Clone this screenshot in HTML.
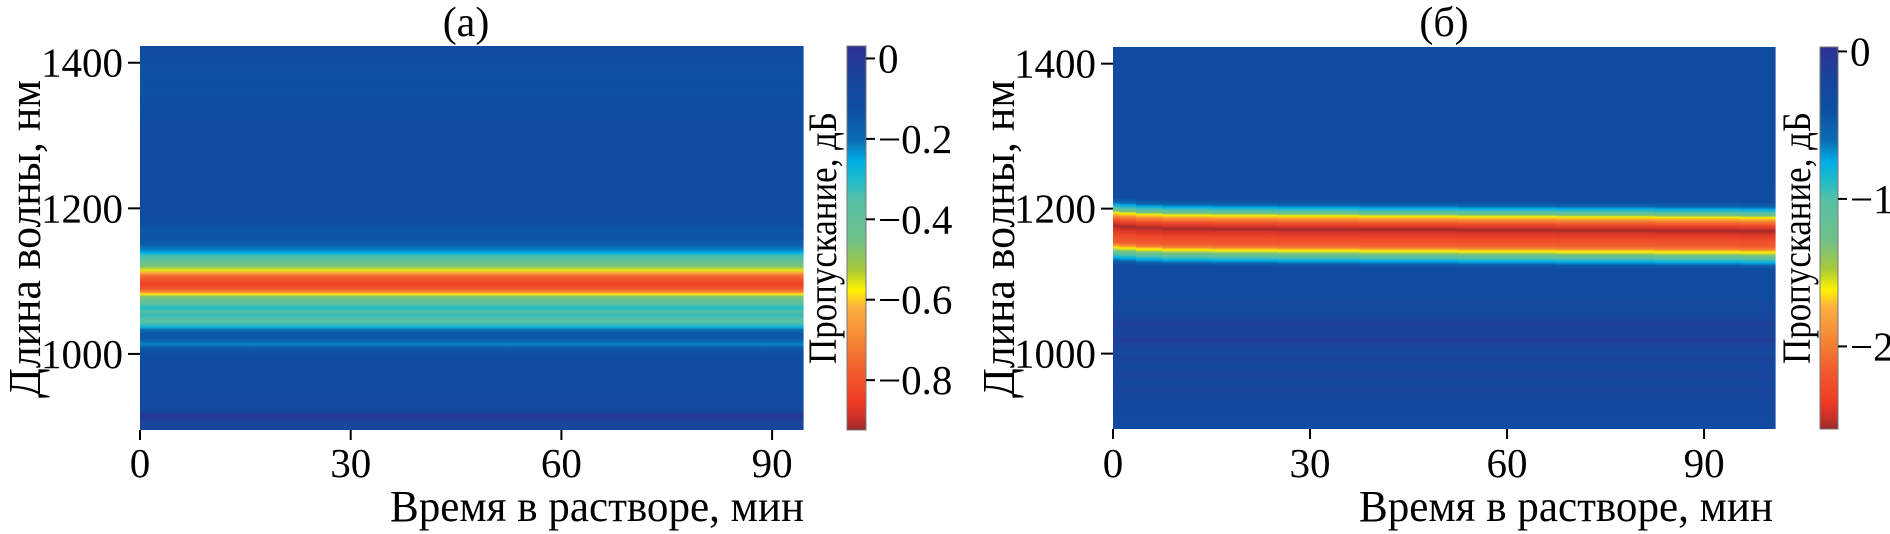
<!DOCTYPE html>
<html><head><meta charset="utf-8"><style>
html,body{margin:0;padding:0;background:#fff;}
svg{display:block;font-family:"Liberation Serif","Noto Serif CJK SC",serif;}
</style></head><body>
<svg id="fig" width="1890" height="534" viewBox="0 0 1890 534" xmlns="http://www.w3.org/2000/svg">
<defs id="defs"></defs>
<g id="panelA"></g>
<g id="panelB"></g>
<g>
<text x="466" y="36" text-anchor="middle" font-size="42">(a)</text>
<text x="1444" y="36" text-anchor="middle" font-size="42">(б)</text>
<text transform="translate(40,239) rotate(-90)" text-anchor="middle" font-size="46" textLength="318" lengthAdjust="spacingAndGlyphs">Длина волны, нм</text>
<text transform="translate(1014,239) rotate(-90)" text-anchor="middle" font-size="46" textLength="318" lengthAdjust="spacingAndGlyphs">Длина волны, нм</text>
<text x="804" y="521" text-anchor="end" font-size="44" textLength="414" lengthAdjust="spacingAndGlyphs">Время в растворе, мин</text>
<text x="1773" y="521" text-anchor="end" font-size="44" textLength="414" lengthAdjust="spacingAndGlyphs">Время в растворе, мин</text>
<text transform="translate(836,238) rotate(-90)" text-anchor="middle" font-size="40" textLength="252" lengthAdjust="spacingAndGlyphs">Пропускание, дБ</text>
<text transform="translate(1810,238) rotate(-90)" text-anchor="middle" font-size="40" textLength="252" lengthAdjust="spacingAndGlyphs">Пропускание, дБ</text>
</g>
</svg>
<script>
// ---- Panel (a) data: transmission profile vs wavelength (constant in time)
const timesA = [0, 94.4];
const wlA  = [1425,1380,1300,1200,1180,1170,1160,1150,1143,1139,1135,1128,1120,1115,1112,1107,1100,1095,1090,1085,1082,1079,1074,1068,1063,1058,1053,1048,1043,1037,1033,1028,1022,1017,1013,1009,1000,960,930,920,915,910,900,895];
const valA = [-0.11,-0.13,-0.11,-0.11,-0.12,-0.14,-0.13,-0.17,-0.22,-0.26,-0.33,-0.40,-0.47,-0.56,-0.62,-0.75,-0.82,-0.83,-0.80,-0.70,-0.58,-0.48,-0.42,-0.36,-0.30,-0.36,-0.32,-0.37,-0.35,-0.28,-0.20,-0.15,-0.15,-0.20,-0.22,-0.16,-0.12,-0.10,-0.09,-0.06,0.01,-0.03,-0.06,-0.06];
const xTicksA = [0,30,60,90];
const yTicks = [1000,1200,1400];
const cbTicksA = [0,-0.2,-0.4,-0.6,-0.8];
const cbLabelsA = ["0","\u22120.2","\u22120.4","\u22120.6","\u22120.8"];

// ---- Panel (б) data
const timesB  = [0,2,5,10,20,30,45,60,75,90,101];
const peakB   = [1176,1175,1173.5,1172.5,1172,1171.5,1171,1170.5,1170,1169.5,1169];
const bandOff = [40,33,29.5,25,21,18.5,14,8,3,0,-4,-12,-22,-26,-29.5,-34,-39,-43.5,-48,-53];
const bandVal = [-0.35,-0.55,-0.75,-1.0,-1.3,-1.6,-1.9,-2.25,-2.45,-2.55,-2.45,-2.3,-2.15,-1.95,-1.62,-1.3,-1.0,-0.75,-0.5,-0.35];
const bgWlB  = [1425,1300,1240,1110,1080,1070,1060,1045,1040,1035,1025,1019,1012,1000,992,985,970,960,950,930,900,895];
const bgValB = [-0.33,-0.33,-0.33,-0.33,-0.33,-0.28,-0.25,-0.2,-0.12,-0.2,-0.18,-0.1,-0.2,-0.25,-0.16,-0.25,-0.2,-0.25,-0.2,-0.27,-0.3,-0.3];
const xTicksB = [0,30,60,90];
const cbTicksB = [0,-1,-2];
const cbLabelsB = ["0","\u22121","\u22122"];

// ---- colormap
const cmap = [[0,"#9a2a2b"],[0.03,"#c9302a"],[0.07,"#ee3b24"],[0.15,"#f15a2e"],[0.234,"#f58634"],[0.32,"#fcb040"],[0.365,"#fff200"],[0.417,"#a9ca3a"],[0.495,"#70c088"],[0.60,"#56c0a8"],[0.65,"#20bcc8"],[0.70,"#00aee8"],[0.755,"#0b6cb3"],[0.84,"#0d4ea1"],[0.92,"#1a449c"],[1.0,"#2e3192"]];
function hex(h){return [1,3,5].map(i=>parseInt(h.substr(i,2),16));}
function colorAt(f){
  f=Math.max(0,Math.min(1,f));
  for(let i=1;i<cmap.length;i++){
    if(f<=cmap[i][0]){
      const a=cmap[i-1],b=cmap[i],t=(f-a[0])/(b[0]-a[0]);
      const ca=hex(a[1]),cb=hex(b[1]);
      return "rgb("+ca.map((c,k)=>Math.round(c+(cb[k]-c)*t)).join(",")+")";
    }
  }
  return cmap[cmap.length-1][1];
}
const NS="http://www.w3.org/2000/svg";
function mk(tag,attrs,parent){const e=document.createElementNS(NS,tag);for(const k in attrs)e.setAttribute(k,attrs[k]);parent.appendChild(e);return e;}
const defs=document.getElementById('defs');
let gid=0;
function gradient(stops){
  const id="g"+(gid++);
  const g=mk('linearGradient',{id:id,x1:0,y1:0,x2:0,y2:1},defs);
  stops.forEach(s=>mk('stop',{offset:s[0],'stop-color':s[1]},g));
  return id;
}

function drawPanel(cfg){
  const P=cfg.parent;
  const yS=w=>cfg.top+(cfg.wMax-w)/(cfg.wMax-cfg.wMin)*(cfg.bottom-cfg.top);
  const xS=t=>cfg.left+(t-cfg.tMin)/(cfg.tMax-cfg.tMin)*(cfg.right-cfg.left);
  const vf=v=>(v-cfg.vMin)/(cfg.vMax-cfg.vMin);
  const hm=mk('g',{},P);
  
  
  const n=cfg.times.length;
  for(let i=0;i<n;i++){
    const pts=cfg.profile(i).sort((a,b)=>b[0]-a[0]);
    const stops=pts.map(p=>[Math.max(0,Math.min(1,(yS(p[0])-cfg.top)/(cfg.bottom-cfg.top))),colorAt(vf(p[1]))]);
    const id=gradient(stops);
    const x0 = i===0?cfg.left:(xS(cfg.times[i-1])+xS(cfg.times[i]))/2;
    const x1 = i===n-1?cfg.right:(xS(cfg.times[i])+xS(cfg.times[i+1]))/2;
    const r=mk('rect',{x:x0,y:cfg.top,width:Math.max(x1-x0,0)+0.6,height:cfg.bottom-cfg.top,fill:'url(#'+id+')'},hm);
    
    
  }
  cfg.yTicks.forEach(w=>{
    const y=yS(w);
    const l=mk('line',{x1:cfg.left-12,x2:cfg.left,y1:y,y2:y,stroke:'#000','stroke-width':2},P);
    
    
    const t=mk('text',{x:cfg.left-17,y:y+14,'text-anchor':'end','font-size':41},P);
    t.textContent=w;
    
    
  });
  cfg.xTicks.forEach(v=>{
    const x=xS(v);
    const l=mk('line',{x1:x,x2:x,y1:cfg.bottom,y2:cfg.bottom+10,stroke:'#000','stroke-width':2},P);
    
    
    const t=mk('text',{x:x,y:477,'text-anchor':'middle','font-size':41},P);
    t.textContent=v;
    
    
  });
  const cbStops=cmap.map(s=>[1-s[0],s[1]]).reverse();
  const cid=gradient(cbStops);
  const cb=mk('rect',{x:cfg.cbX,y:cfg.top,width:cfg.cbW,height:cfg.bottom-cfg.top,fill:'url(#'+cid+')',stroke:'#777','stroke-width':1},P);
  
  
  const cy=v=>cfg.bottom-vf(v)*(cfg.bottom-cfg.top);
  cfg.cbTicks.forEach((v,i)=>{
    const y=cy(v);
    const l=mk('line',{x1:cfg.cbX+cfg.cbW,x2:cfg.cbX+cfg.cbW+9,y1:y,y2:y,stroke:'#000','stroke-width':2},P);
    
    
    const t=mk('text',{x:cfg.cbX+cfg.cbW+12,y:y+14,'font-size':41},P);
    t.textContent=cfg.cbLabels[i];
    
    
  });
}

drawPanel({parent:document.getElementById('panelA'),left:140,right:803,top:46,bottom:430,
  wMin:895.5,wMax:1423,tMin:0,tMax:94.4,vMin:-0.924,vMax:0.031,
  times:timesA,profile:i=>wlA.map((w,k)=>[w,valA[k]]),
  yTicks:yTicks,xTicks:xTicksA,cbX:847,cbW:19,cbTicks:cbTicksA,cbLabels:cbLabelsA});

drawPanel({parent:document.getElementById('panelB'),left:1113,right:1775,top:47,bottom:429,
  wMin:896,wMax:1423,tMin:0,tMax:100.8,vMin:-2.56,vMax:0.03,
  times:timesB,profile:i=>{
    const c=peakB[i];
    const pts=[];
    bgWlB.forEach((w,k)=>{ if(w>c+45||w<c-58) pts.push([w,bgValB[k]]); });
    bandOff.forEach((o,k)=>pts.push([c+o,bandVal[k]]));
    return pts;
  },
  yTicks:yTicks,xTicks:xTicksB,cbX:1820,cbW:18,cbTicks:cbTicksB,cbLabels:cbLabelsB});
</script>
</body></html>
